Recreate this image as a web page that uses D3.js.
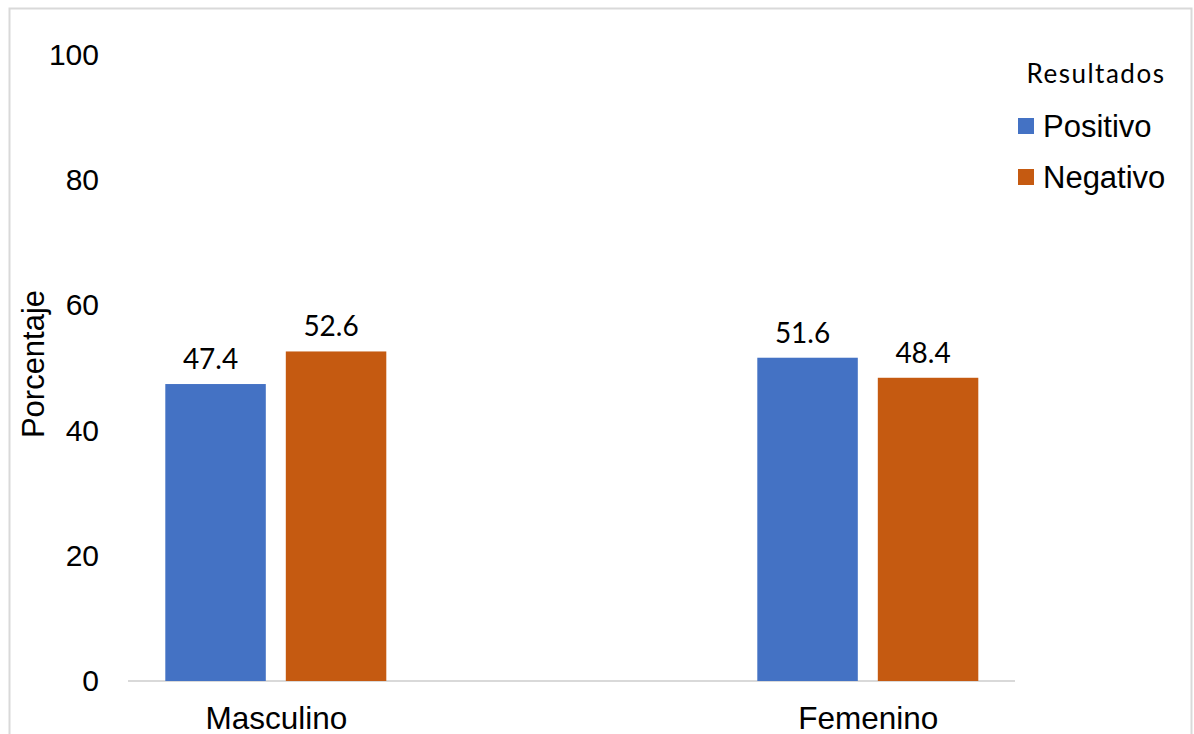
<!DOCTYPE html>
<html>
<head>
<meta charset="utf-8">
<script src="https://cdn.jsdelivr.net/npm/d3@7"></script>
<style>
  html, body { margin: 0; padding: 0; background: #fff; }
  svg { display: block; }
</style>
</head>
<body>
<svg id="chart" width="1194" height="734"></svg>
<script>
// Categories, series and tick values
const categories = ["Masculino", "Femenino"];
const seriesNames = ["Positivo", "Negativo"];
const positivo = [47.4, 51.6];
const negativo = [52.6, 48.4];
const yTicks = [0, 20, 40, 60, 80, 100];
const colors = ["#4472C4", "#C55A11"];

const svg = d3.select("#chart");

// Outer frame
svg.append("rect")
  .attr("x", 9.5).attr("y", 8.5)
  .attr("width", 1182).attr("height", 740)
  .attr("fill", "#fff").attr("stroke", "#d9d9d9").attr("stroke-width", 2);

// Scales
const y = d3.scaleLinear().domain([0, 100]).range([681, 54.5]);
const x = d3.scalePoint().domain(categories).range([275.8, 867.8]);
const barW = 100.5, gap = 20;
const xSub = d3.scaleBand().domain(seriesNames)
  .range([-(barW * 2 + gap) / 2, (barW * 2 + gap) / 2])
  .paddingInner(gap / (barW + gap)).paddingOuter(0);

const arial = "Liberation Sans, Arial, sans-serif";
const calib = "Lato, 'Open Sans', sans-serif";

// Y tick labels (no gridlines)
const yAxis = d3.axisLeft(y).tickValues(yTicks).tickSize(0).tickPadding(0);
const gy = svg.append("g").attr("transform", "translate(99,0)").call(yAxis);
gy.select(".domain").remove();
gy.selectAll("text")
  .attr("font-family", arial)
  .attr("font-size", 30).attr("fill", "#000");

// Baseline
svg.append("line")
  .attr("x1", 128).attr("x2", 1015)
  .attr("y1", y(0)).attr("y2", y(0))
  .attr("stroke", "#d9d9d9").attr("stroke-width", 2);

// Bars
const data = [];
categories.forEach((c, i) => {
  data.push({ cat: c, s: "Positivo", v: positivo[i], color: colors[0] });
  data.push({ cat: c, s: "Negativo", v: negativo[i], color: colors[1] });
});

svg.append("g").selectAll("rect").data(data).join("rect")
  .attr("x", d => x(d.cat) + xSub(d.s))
  .attr("width", xSub.bandwidth())
  .attr("y", d => y(d.v))
  .attr("height", d => y(0) - y(d.v))
  .attr("fill", d => d.color);

// Value labels
svg.append("g").selectAll("text").data(data).join("text")
  .attr("x", d => x(d.cat) + xSub(d.s) + xSub.bandwidth() / 2 - 5)
  .attr("y", d => y(d.v) - 15)
  .attr("text-anchor", "middle")
  .attr("font-family", calib)
  .attr("font-size", 28).attr("fill", "#000")
  .text(d => d.v.toFixed(1));

// Category labels
const xAxis = d3.axisBottom(x).tickSize(0).tickPadding(0);
const gx = svg.append("g").attr("transform", `translate(0,${y(0)})`).call(xAxis);
gx.select(".domain").remove();
gx.selectAll("text")
  .attr("dy", 0).attr("y", 48)
  .attr("font-family", arial)
  .attr("font-size", 31.5).attr("fill", "#000");

// Y axis title
svg.append("text")
  .attr("transform", "translate(44,364) rotate(-90)")
  .attr("text-anchor", "middle")
  .attr("font-family", arial)
  .attr("font-size", 31).attr("fill", "#000")
  .text("Porcentaje");

// Legend
const legend = svg.append("g");
legend.append("text")
  .attr("x", 1096).attr("y", 83)
  .attr("text-anchor", "middle")
  .attr("font-family", calib)
  .attr("font-size", 26).attr("letter-spacing", 1.5)
  .attr("fill", "#000")
  .text("Resultados");

const legY = [137, 188];
seriesNames.forEach((s, i) => {
  legend.append("rect")
    .attr("x", 1018).attr("y", legY[i] - 19)
    .attr("width", 16).attr("height", 16)
    .attr("fill", colors[i]);
  legend.append("text")
    .attr("x", 1043).attr("y", legY[i])
    .attr("font-family", arial)
    .attr("font-size", 31).attr("fill", "#000")
    .text(s);
});
</script>
</body>
</html>
